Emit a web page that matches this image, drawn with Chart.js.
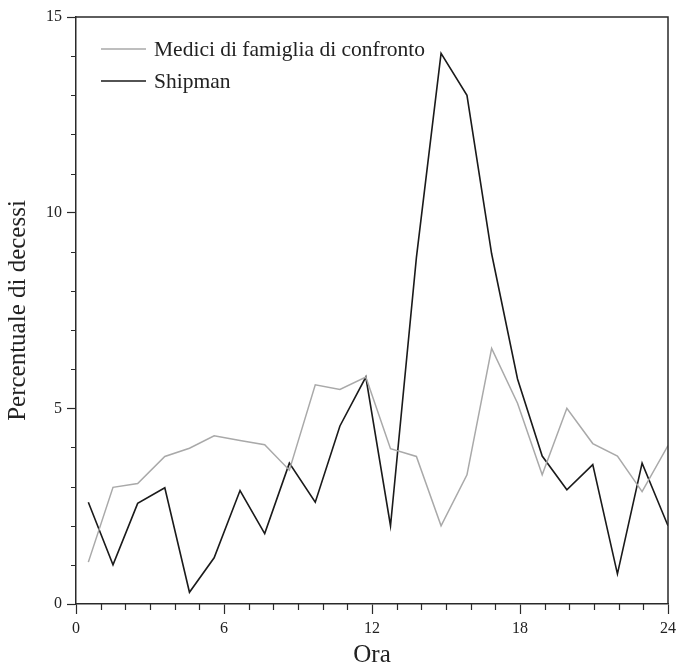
<!DOCTYPE html>
<html>
<head>
<meta charset="utf-8">
<script src="https://cdn.jsdelivr.net/npm/chart.js@4/dist/chart.umd.min.js"></script>
<style>
  html, body { margin: 0; padding: 0; background: #fff; }
  #wrap { width: 677px; height: 666px; }
</style>
</head>
<body>
<div id="wrap"><canvas id="deathsChart" width="677" height="666"></canvas></div>
<script>
// hour of day (x) for each point
const hours = [0.5, 1.5, 2.5, 3.6, 4.6, 5.6, 6.65, 7.65, 8.65, 9.7, 10.7, 11.75,
               12.75, 13.8, 14.8, 15.85, 16.85, 17.9, 18.9, 19.9, 20.95, 21.95, 22.95, 24];
// percentage of deaths
const mediciValues = [1.07, 2.98, 3.08, 3.77, 3.98, 4.3, 4.18, 4.07, 3.42, 5.6, 5.48, 5.8,
                      3.97, 3.77, 2.0, 3.3, 6.53, 5.13, 3.3, 5.0, 4.1, 3.78, 2.87, 4.05];
const shipmanValues = [2.6, 1.0, 2.57, 2.97, 0.3, 1.18, 2.9, 1.8, 3.6, 2.6, 4.55, 5.8,
                       2.0, 8.85, 14.07, 13.0, 8.95, 5.75, 3.78, 2.92, 3.56, 0.77, 3.6, 2.0];
const seriesLabels = ['Medici di famiglia di confronto', 'Shipman'];
const xMajor = 6;   // labelled x ticks every 6 hours
const yMajor = 5;   // labelled y ticks every 5 %

const FONT = '"Liberation Serif", "DejaVu Serif", serif';
const AXIS = '#2a2a2a';

function toPoints(vals) {
  return vals.map((v, i) => ({ x: hours[i], y: v }));
}

// frame, short minor ticks and the legend inside the plot
const extras = {
  id: 'extras',
  afterDraw(chart) {
    const ctx = chart.ctx;
    const a = chart.chartArea;
    const xs = chart.scales.x, ys = chart.scales.y;
    ctx.save();
    ctx.strokeStyle = AXIS;
    ctx.lineWidth = 1.5;
    ctx.beginPath();
    ctx.moveTo(a.left, a.top); ctx.lineTo(a.right, a.top); ctx.lineTo(a.right, a.bottom);
    ctx.stroke();

    ctx.lineWidth = 1.2;
    ctx.beginPath();
    xs.ticks.forEach(t => {
      if (t.value % xMajor !== 0) {
        const px = Math.round(xs.getPixelForValue(t.value)) + 0.5;
        ctx.moveTo(px, a.bottom); ctx.lineTo(px, a.bottom + 6);
      }
    });
    ys.ticks.forEach(t => {
      if (t.value % yMajor !== 0) {
        const py = Math.round(ys.getPixelForValue(t.value)) + 0.5;
        ctx.moveTo(a.left, py); ctx.lineTo(a.left - 5, py);
      }
    });
    ctx.stroke();

    // legend
    ctx.font = '21.5px ' + FONT;
    ctx.textBaseline = 'middle';
    ctx.fillStyle = '#222';
    chart.data.datasets.forEach((ds, i) => {
      const y = 49 + i * 32;
      ctx.strokeStyle = ds.borderColor;
      ctx.lineWidth = ds.borderWidth;
      ctx.beginPath(); ctx.moveTo(101, y); ctx.lineTo(146, y); ctx.stroke();
      ctx.fillText(ds.label, 154, y + 1);
    });
    ctx.restore();
  }
};

new Chart(document.getElementById('deathsChart'), {
  type: 'line',
  data: {
    datasets: [
      {
        label: seriesLabels[0],
        data: toPoints(mediciValues),
        borderColor: '#a9a9a9',
        borderWidth: 1.5,
        pointRadius: 0,
        tension: 0
      },
      {
        label: seriesLabels[1],
        data: toPoints(shipmanValues),
        borderColor: '#1a1a1a',
        borderWidth: 1.6,
        pointRadius: 0,
        tension: 0
      }
    ]
  },
  options: {
    responsive: false,
    animation: false,
    layout: { padding: { left: 0, right: 9, top: 17, bottom: 0 } },
    plugins: {
      legend: { display: false },
      tooltip: { enabled: false }
    },
    scales: {
      x: {
        type: 'linear',
        min: 0,
        max: 24,
        afterFit: s => { s.height = 62; s.paddingLeft = 0; s.paddingRight = 0; },
        border: { display: true, color: AXIS, width: 1.5 },
        grid: {
          drawOnChartArea: false,
          tickLength: 10,
          tickWidth: 1.2,
          tickColor: c => (c.tick && c.tick.value % xMajor === 0) ? AXIS : 'rgba(0,0,0,0)'
        },
        ticks: {
          stepSize: 1,
          autoSkip: false,
          maxRotation: 0,
          padding: 5,
          color: '#222',
          font: { family: FONT, size: 16 },
          callback: v => (v % xMajor === 0 ? v : '')
        },
        title: {
          display: true,
          text: 'Ora',
          color: '#222',
          font: { family: FONT, size: 25, lineHeight: 1 },
          padding: { top: 0, bottom: -2 }
        }
      },
      y: {
        min: 0,
        max: 15,
        afterFit: s => { s.width = 76; s.paddingTop = 0; s.paddingBottom = 0; },
        border: { display: true, color: AXIS, width: 1.5 },
        grid: {
          drawOnChartArea: false,
          tickLength: 9,
          tickWidth: 1.2,
          tickColor: c => (c.tick && c.tick.value % yMajor === 0) ? AXIS : 'rgba(0,0,0,0)'
        },
        ticks: {
          stepSize: 1,
          autoSkip: false,
          padding: 5,
          color: '#222',
          font: { family: FONT, size: 16 },
          callback: v => (v % yMajor === 0 ? v : '')
        },
        title: {
          display: true,
          text: 'Percentuale di decessi',
          color: '#222',
          font: { family: FONT, size: 25, lineHeight: 1 },
          padding: { top: 6, bottom: 0 }
        }
      }
    }
  },
  plugins: [extras]
});
</script>
</body>
</html>
